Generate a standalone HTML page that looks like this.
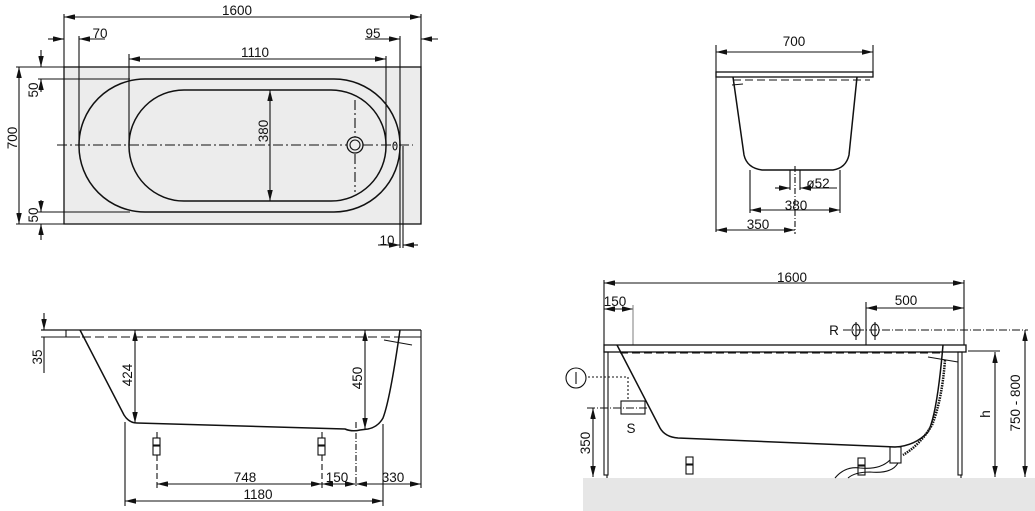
<!DOCTYPE html>
<html><head><meta charset="utf-8"><style>
html,body{margin:0;padding:0;background:#fff;}
svg{display:block;}
text{font-family:"Liberation Sans",sans-serif;font-size:13.5px;fill:#111;}
</style></head><body>
<svg width="1035" height="511" viewBox="0 0 1035 511" xmlns="http://www.w3.org/2000/svg">
<defs>
<marker id="a" viewBox="0 0 12 6" refX="12" refY="3" markerWidth="11" markerHeight="5" orient="auto-start-reverse"><path d="M0,0 L12,3 L0,6 z" fill="#111"/></marker>
</defs>
<g stroke="#111" fill="none" stroke-width="1.1">
<!-- ===== TOP VIEW ===== -->
<rect x="64" y="67" width="357" height="157" fill="#ececec" stroke-width="1.3"/>
<rect x="79" y="79" width="321" height="133" rx="66" ry="66" stroke-width="1.5"/>
<rect x="129" y="90" width="257" height="111" rx="55" ry="55" stroke-width="1.5"/>
<line x1="57" y1="145" x2="413" y2="145" stroke-dasharray="10,3,2,3"/>
<line x1="355" y1="100" x2="355" y2="192" stroke-dasharray="10,3,2,3"/>
<circle cx="355" cy="145" r="8" fill="#ececec" stroke-width="1.3"/>
<circle cx="355" cy="145" r="5"/>
<ellipse cx="395" cy="146" rx="2" ry="4"/>
<line x1="64" y1="14" x2="64" y2="67"/><line x1="421" y1="14" x2="421" y2="67"/>
<line x1="64" y1="17" x2="421" y2="17" marker-start="url(#a)" marker-end="url(#a)"/>
<line x1="79" y1="36" x2="79" y2="145"/>
<line x1="48" y1="39" x2="64" y2="39" marker-end="url(#a)"/>
<line x1="79" y1="39" x2="105" y2="39" marker-start="url(#a)"/>
<line x1="400" y1="36" x2="400" y2="248"/>
<line x1="365" y1="39" x2="400" y2="39" marker-end="url(#a)"/>
<line x1="438" y1="39" x2="421" y2="39" marker-end="url(#a)"/>
<line x1="129" y1="54" x2="129" y2="145"/><line x1="386" y1="56" x2="386" y2="145"/>
<line x1="129" y1="59" x2="386" y2="59" marker-start="url(#a)" marker-end="url(#a)"/>
<line x1="16" y1="67" x2="64" y2="67"/><line x1="16" y1="224" x2="64" y2="224"/>
<line x1="19" y1="67" x2="19" y2="224" marker-start="url(#a)" marker-end="url(#a)"/>
<line x1="38" y1="79" x2="130" y2="79"/><line x1="38" y1="212" x2="130" y2="212"/>
<line x1="41" y1="50" x2="41" y2="67" marker-end="url(#a)"/>
<line x1="41" y1="92" x2="41" y2="79" marker-end="url(#a)"/>
<line x1="41" y1="200" x2="41" y2="212" marker-end="url(#a)"/>
<line x1="41" y1="240" x2="41" y2="224" marker-end="url(#a)"/>
<line x1="270" y1="90" x2="270" y2="201" marker-start="url(#a)" marker-end="url(#a)"/>
<line x1="403" y1="146" x2="403" y2="248"/>
<line x1="378" y1="245" x2="400" y2="245" marker-end="url(#a)"/>
<line x1="418" y1="245" x2="403" y2="245" marker-end="url(#a)"/>

<!-- ===== SIDE VIEW LEFT ===== -->
<line x1="41" y1="330" x2="421" y2="330" stroke-width="1.3"/>
<line x1="41" y1="337" x2="80" y2="337"/>
<line x1="66" y1="330" x2="66" y2="337"/>
<line x1="421" y1="330" x2="421" y2="488"/>
<line x1="402" y1="337" x2="421" y2="337"/>
<line x1="82" y1="337" x2="410" y2="337" stroke-dasharray="9,4"/>
<path d="M80,330 L124,415 Q129,423 137,423 L345,429 Q352,432 360,430 L368,429 Q378,427 383,418 Q390,400 400,330" stroke-width="1.5"/>
<line x1="384" y1="340" x2="412" y2="345"/>
<line x1="135" y1="330" x2="135" y2="423" marker-start="url(#a)" marker-end="url(#a)"/>
<line x1="365" y1="330" x2="365" y2="429" marker-start="url(#a)" marker-end="url(#a)"/>
<line x1="44" y1="313" x2="44" y2="330" marker-end="url(#a)"/>
<line x1="44" y1="337" x2="44" y2="373"/>
<rect x="153" y="438" width="7" height="7"/><rect x="153" y="446" width="7" height="9"/>
<rect x="318" y="438" width="7" height="7"/><rect x="318" y="446" width="7" height="9"/>
<line x1="157" y1="432" x2="157" y2="438"/><line x1="322" y1="432" x2="322" y2="438"/>
<line x1="157" y1="455" x2="157" y2="488" stroke-dasharray="6,3"/>
<line x1="322" y1="455" x2="322" y2="488" stroke-dasharray="6,3"/>
<line x1="356" y1="422" x2="356" y2="488" stroke-dasharray="6,2,1,2"/>
<line x1="125" y1="422" x2="125" y2="506"/><line x1="383" y1="424" x2="383" y2="506"/>
<line x1="157" y1="484" x2="322" y2="484" marker-start="url(#a)" marker-end="url(#a)"/>
<line x1="322" y1="484" x2="356" y2="484" marker-start="url(#a)" marker-end="url(#a)"/>
<line x1="356" y1="484" x2="421" y2="484" marker-start="url(#a)" marker-end="url(#a)"/>
<line x1="125" y1="501" x2="383" y2="501" marker-start="url(#a)" marker-end="url(#a)"/>

<!-- ===== END VIEW ===== -->
<rect x="716" y="72" width="157" height="5" stroke-width="1.3"/>
<line x1="733" y1="80" x2="870" y2="80" stroke-dasharray="8,4"/>
<path d="M733,77 L744,155 Q747,168 762,170 L833,170 Q846,168 849,155 L857,77" stroke-width="1.5"/>
<line x1="732" y1="85" x2="743" y2="84"/>
<line x1="716" y1="45" x2="716" y2="232"/><line x1="873" y1="45" x2="873" y2="72"/>
<line x1="716" y1="52" x2="873" y2="52" marker-start="url(#a)" marker-end="url(#a)"/>
<line x1="790" y1="170" x2="790" y2="190"/><line x1="800" y1="170" x2="800" y2="190"/>
<line x1="795" y1="166" x2="795" y2="234" stroke-dasharray="6,2,1,2"/>
<line x1="775" y1="188" x2="790" y2="188" marker-end="url(#a)"/>
<line x1="837" y1="188" x2="800" y2="188" marker-end="url(#a)"/>
<line x1="750" y1="170" x2="750" y2="213"/><line x1="840" y1="170" x2="840" y2="213"/>
<line x1="750" y1="210" x2="840" y2="210" marker-start="url(#a)" marker-end="url(#a)"/>
<line x1="716" y1="230" x2="795" y2="230" marker-start="url(#a)" marker-end="url(#a)"/>

<!-- ===== INSTALLED VIEW ===== -->
<rect x="583" y="478" width="452" height="33" fill="#e6e6e6" stroke="none"/>
<line x1="604" y1="280" x2="604" y2="345"/><line x1="964" y1="280" x2="964" y2="345"/>
<line x1="604" y1="283" x2="964" y2="283" marker-start="url(#a)" marker-end="url(#a)"/>
<line x1="604" y1="309" x2="633" y2="309" marker-start="url(#a)" marker-end="url(#a)"/>
<line x1="633" y1="305" x2="633" y2="345" stroke="#888"/>
<line x1="866" y1="302" x2="866" y2="345"/>
<line x1="866" y1="308" x2="964" y2="308" marker-start="url(#a)" marker-end="url(#a)"/>
<line x1="843" y1="330" x2="1028" y2="330" stroke-dasharray="8,2,1,2"/>
<ellipse cx="856" cy="330" rx="4" ry="6"/><ellipse cx="875" cy="330" rx="4" ry="6"/>
<line x1="856" y1="322" x2="856" y2="340"/><line x1="875" y1="322" x2="875" y2="340"/>
<rect x="604" y="345" width="362" height="7" stroke-width="1.3"/>
<line x1="620" y1="353" x2="940" y2="353" stroke-dasharray="8,4"/>
<rect x="604" y="352" width="4" height="123"/>
<line x1="607" y1="475" x2="607" y2="478"/>
<rect x="958" y="352" width="4" height="123"/>
<line x1="961" y1="475" x2="961" y2="478"/>
<path d="M617,345 L660,428 Q665,437 678,438 L895,447 Q915,446 928,432 Q937,415 943,345" stroke-width="1.5"/>
<line x1="928" y1="357" x2="958" y2="362"/>
<path d="M945,360 Q942,400 932,425 Q920,445 903,455" stroke-width="2.5" stroke-dasharray="1.5,1"/>
<rect x="890" y="447" width="11" height="16"/>
<path d="M890,460 Q880,470 860,468 Q845,466 835,478"/>
<path d="M898,463 Q892,474 870,472 Q855,472 848,478"/>
<rect x="686" y="457" width="7" height="7"/><rect x="686" y="465" width="7" height="9"/>
<rect x="858" y="458" width="7" height="7"/><rect x="858" y="466" width="7" height="9"/>
<circle cx="576" cy="378" r="10"/>
<line x1="576" y1="372" x2="576" y2="384"/>
<line x1="588" y1="377" x2="628" y2="377" stroke-dasharray="2,2"/>
<line x1="628" y1="377" x2="628" y2="401" stroke-dasharray="2,2"/>
<rect x="621" y="401" width="24" height="13"/>
<line x1="587" y1="408" x2="652" y2="408" stroke-dasharray="8,2,1,2"/>
<line x1="593" y1="408" x2="593" y2="477" marker-start="url(#a)" marker-end="url(#a)"/>
<line x1="968" y1="351" x2="1000" y2="351"/>
<line x1="995" y1="352" x2="995" y2="477" marker-start="url(#a)" marker-end="url(#a)"/>
<line x1="1025" y1="330" x2="1025" y2="477" marker-start="url(#a)" marker-end="url(#a)"/>
</g>
<g>
<text x="237" y="15" text-anchor="middle">1600</text>
<text x="100" y="38" text-anchor="middle">70</text>
<text x="373" y="38" text-anchor="middle">95</text>
<text x="255" y="57" text-anchor="middle">1110</text>
<text x="387" y="245" text-anchor="middle">10</text>
<text transform="translate(17,138) rotate(-90)" text-anchor="middle">700</text>
<text transform="translate(38,90) rotate(-90)" text-anchor="middle">50</text>
<text transform="translate(38,215) rotate(-90)" text-anchor="middle">50</text>
<text transform="translate(268,131) rotate(-90)" text-anchor="middle">380</text>
<text transform="translate(42,357) rotate(-90)" text-anchor="middle">35</text>
<text transform="translate(132,375) rotate(-90)" text-anchor="middle">424</text>
<text transform="translate(362,378) rotate(-90)" text-anchor="middle">450</text>
<text x="245" y="482" text-anchor="middle">748</text>
<text x="337" y="482" text-anchor="middle">150</text>
<text x="393" y="482" text-anchor="middle">330</text>
<text x="258" y="499" text-anchor="middle">1180</text>
<text x="794" y="46" text-anchor="middle">700</text>
<text x="818" y="188" text-anchor="middle">ø52</text>
<text x="796" y="210" text-anchor="middle">380</text>
<text x="758" y="229" text-anchor="middle">350</text>
<text x="792" y="282" text-anchor="middle">1600</text>
<text x="615" y="306" text-anchor="middle">150</text>
<text x="906" y="305" text-anchor="middle">500</text>
<text x="834" y="335" text-anchor="middle">R</text>
<text x="631" y="433" text-anchor="middle">S</text>
<text transform="translate(590,443) rotate(-90)" text-anchor="middle">350</text>
<text transform="translate(990,414) rotate(-90)" text-anchor="middle">h</text>
<text transform="translate(1020,403) rotate(-90)" text-anchor="middle">750 - 800</text>
</g>
</svg>
</body></html>
